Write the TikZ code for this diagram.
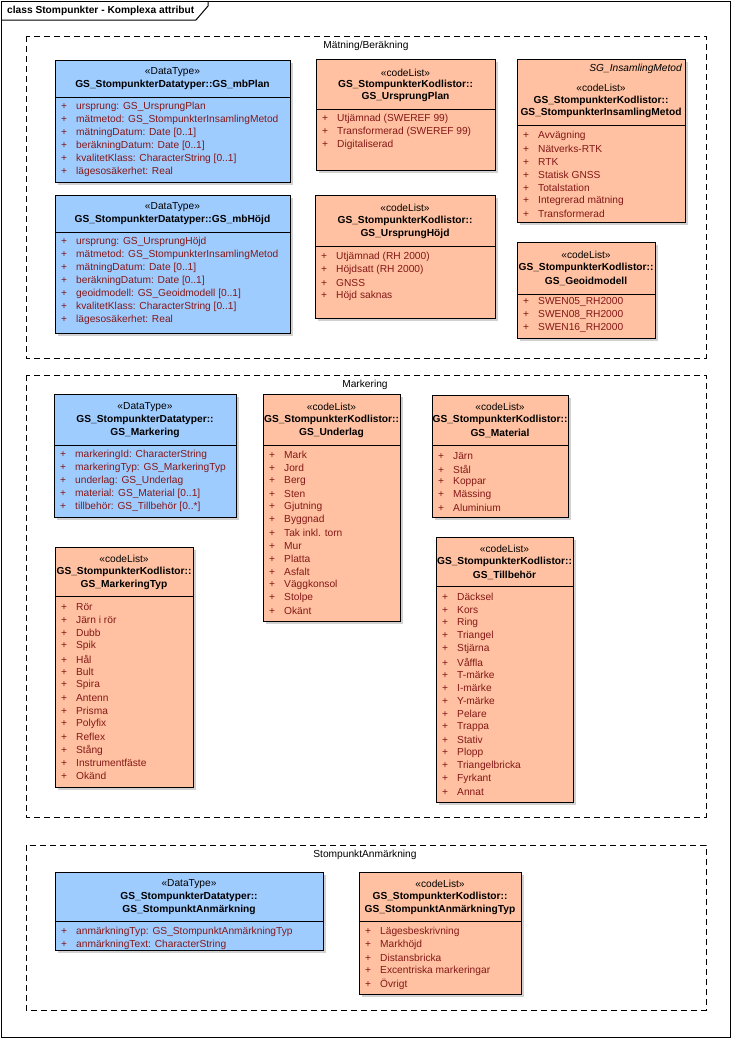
\documentclass[tikz,border=0pt]{standalone}
\usepackage{fontspec}
\setmainfont{Liberation Sans}
\usetikzlibrary{positioning}
\definecolor{DTblue}{HTML}{9FCCFF}
\definecolor{CLorange}{HTML}{FFC1A1}
\definecolor{ItemRed}{HTML}{841818}

\begin{document}
\begin{tikzpicture}[x=1pt,y=-1pt,
  every node/.style={font=\fontsize{10.2}{13}\selectfont, inner sep=0pt},
  dtbox/.style={draw=black, line width=1pt, fill=DTblue},
  clbox/.style={draw=black, line width=1pt, fill=CLorange},
  divider/.style={line width=1pt},
  dropshadow/.style={fill=black!18},
  pkg/.style={draw, line width=1pt, dash pattern=on 6pt off 4pt},
  titl/.style={font=\fontsize{10.2}{13}\selectfont\bfseries},
  attr/.style={anchor=west, text=ItemRed}]
  \useasboundingbox (0,0) rectangle (732,1039);

  % frame
  \draw[line width=1pt] (1,1) rectangle (730,1037);
  \draw[line width=1pt] (1,20) -- (196,20) -- (208,6) -- (208,1);
  \node[anchor=west,titl] (frameT) at (7,11) {class Stompunkter - Komplexa attribut};

  % package Mätning/Beräkning
  \draw[pkg] (26,36) rectangle (706,358);
  \node (pkgA) at (366,46) {Mätning/Beräkning};

  % GS_mbPlan
  \fill[dropshadow] (58,63) rectangle (293,185);
  \draw[dtbox] (55,60) rectangle (290,182);
  \draw[divider] (55,97) -- (290,97);
  \node (planS) at (172.5,72) {«DataType»};
  \node[titl] (planT) at (172.5,85) {GS\_StompunkterDatatyper::GS\_mbPlan};
  \foreach \k/\lab in {0/ursprung: GS\_UrsprungPlan, 1/mätmetod: GS\_StompunkterInsamlingMetod,
      2/mätningDatum: Date [0..1], 3/beräkningDatum: Date [0..1],
      4/kvalitetKlass: CharacterString [0..1], 5/lägesosäkerhet: Real}
    \node[attr] (plan\k) at (61,{107+13*\k}) {\makebox[15pt][l]{+}\lab};

  % GS_UrsprungPlan
  \fill[dropshadow] (319,62) rectangle (498,173);
  \draw[clbox] (316,59) rectangle (495,170);
  \draw[divider] (316,109) -- (495,109);
  \node (uplanS) at (405.5,73) {«codeList»};
  \node[titl] (uplanT1) at (405.5,85) {GS\_StompunkterKodlistor::};
  \node[titl] (uplanT2) at (405.5,97) {GS\_UrsprungPlan};
  \foreach \k/\lab in {0/Utjämnad (SWEREF 99), 1/Transformerad (SWEREF 99), 2/Digitaliserad}
    \node[attr] (uplan\k) at (322,{119+13*\k}) {\makebox[15pt][l]{+}\lab};

  % GS_StompunkterInsamlingMetod
  \fill[dropshadow] (520,62) rectangle (688,225);
  \draw[clbox] (517,59) rectangle (685,222);
  \draw[divider] (517,125) -- (685,125);
  \node[anchor=east,font=\fontsize{10.2}{13}\selectfont\itshape] (insG) at (682,69) {SG\_InsamlingMetod};
  \node (insS) at (601,88) {«codeList»};
  \node[titl] (insT1) at (601,101) {GS\_StompunkterKodlistor::};
  \node[titl] (insT2) at (601,113) {GS\_StompunkterInsamlingMetod};
  \foreach \k/\lab in {0/Avvägning, 1/Nätverks-RTK, 2/RTK, 3/Statisk GNSS, 4/Totalstation,
      5/Integrerad mätning, 6/Transformerad}
    \node[attr] (ins\k) at (523,{136+13*\k}) {\makebox[15pt][l]{+}\lab};

  % GS_mbHöjd
  \fill[dropshadow] (58,198) rectangle (293,336);
  \draw[dtbox] (55,195) rectangle (290,333);
  \draw[divider] (55,232) -- (290,232);
  \node (hojdS) at (172.5,207) {«DataType»};
  \node[titl] (hojdT) at (172.5,220) {GS\_StompunkterDatatyper::GS\_mbHöjd};
  \foreach \k/\lab in {0/ursprung: GS\_UrsprungHöjd, 1/mätmetod: GS\_StompunkterInsamlingMetod,
      2/mätningDatum: Date [0..1], 3/beräkningDatum: Date [0..1],
      4/geoidmodell: GS\_Geoidmodell [0..1], 5/kvalitetKlass: CharacterString [0..1],
      6/lägesosäkerhet: Real}
    \node[attr] (hojd\k) at (61,{242+13*\k}) {\makebox[15pt][l]{+}\lab};

  % GS_UrsprungHöjd
  \fill[dropshadow] (318,198) rectangle (498,321);
  \draw[clbox] (315,195) rectangle (495,318);
  \draw[divider] (315,246) -- (495,246);
  \node (uhojdS) at (405,208) {«codeList»};
  \node[titl] (uhojdT1) at (405,221) {GS\_StompunkterKodlistor::};
  \node[titl] (uhojdT2) at (405,234) {GS\_UrsprungHöjd};
  \foreach \k/\lab in {0/Utjämnad (RH 2000), 1/Höjdsatt (RH 2000), 2/GNSS, 3/Höjd saknas}
    \node[attr] (uhojd\k) at (321,{257+13*\k}) {\makebox[15pt][l]{+}\lab};

  % GS_Geoidmodell
  \fill[dropshadow] (520,245) rectangle (658,341);
  \draw[clbox] (517,242) rectangle (655,338);
  \draw[divider] (517,294) -- (655,294);
  \node (geoS) at (586,255) {«codeList»};
  \node[titl] (geoT1) at (586,268) {GS\_StompunkterKodlistor::};
  \node[titl] (geoT2) at (586,281) {GS\_Geoidmodell};
  \foreach \k/\lab in {0/SWEN05\_RH2000, 1/SWEN08\_RH2000, 2/SWEN16\_RH2000}
    \node[attr] (geo\k) at (523,{302+13*\k}) {\makebox[15pt][l]{+}\lab};

  % package Markering
  \draw[pkg] (26,375) rectangle (706,817);
  \node (pkgB) at (365,385) {Markering};

  % GS_Markering
  \fill[dropshadow] (57,397) rectangle (239,520);
  \draw[dtbox] (54,394) rectangle (236,517);
  \draw[divider] (54,445) -- (236,445);
  \node (markS) at (145,407) {«DataType»};
  \node[titl] (markT1) at (145,420) {GS\_StompunkterDatatyper::};
  \node[titl] (markT2) at (145,433) {GS\_Markering};
  \foreach \k/\lab in {0/markeringId: CharacterString, 1/markeringTyp: GS\_MarkeringTyp,
      2/underlag: GS\_Underlag, 3/material: GS\_Material [0..1], 4/tillbehör: GS\_Tillbehör [0..*]}
    \node[attr] (mark\k) at (60,{455+13*\k}) {\makebox[15pt][l]{+}\lab};

  % GS_Underlag
  \fill[dropshadow] (266,397) rectangle (403,624);
  \draw[clbox] (263,394) rectangle (400,621);
  \draw[divider] (263,445) -- (400,445);
  \node (undS) at (331.5,407) {«codeList»};
  \node[titl] (undT1) at (331.5,420) {GS\_StompunkterKodlistor::};
  \node[titl] (undT2) at (331.5,433) {GS\_Underlag};
  \foreach \k/\lab in {0/Mark, 1/Jord, 2/Berg, 3/Sten, 4/Gjutning, 5/Byggnad, 6/Tak inkl. torn,
      7/Mur, 8/Platta, 9/Asfalt, 10/Väggkonsol, 11/Stolpe, 12/Okänt}
    \node[attr] (und\k) at (269,{455+13*\k}) {\makebox[15pt][l]{+}\lab};

  % GS_Material
  \fill[dropshadow] (435,398) rectangle (571,520);
  \draw[clbox] (432,395) rectangle (568,517);
  \draw[divider] (432,445) -- (568,445);
  \node (matS) at (500,407) {«codeList»};
  \node[titl] (matT1) at (500,420) {GS\_StompunkterKodlistor::};
  \node[titl] (matT2) at (500,433) {GS\_Material};
  \foreach \k/\lab in {0/Järn, 1/Stål, 2/Koppar, 3/Mässing, 4/Aluminium}
    \node[attr] (mat\k) at (438,{456+13*\k}) {\makebox[15pt][l]{+}\lab};

  % GS_MarkeringTyp
  \fill[dropshadow] (58,550) rectangle (196,790);
  \draw[clbox] (55,547) rectangle (193,787);
  \draw[divider] (55,596) -- (193,596);
  \node (mtypS) at (124,559) {«codeList»};
  \node[titl] (mtypT1) at (124,572) {GS\_StompunkterKodlistor::};
  \node[titl] (mtypT2) at (124,585) {GS\_MarkeringTyp};
  \foreach \k/\lab in {0/Rör, 1/Järn i rör, 2/Dubb, 3/Spik, 4/Hål, 5/Bult, 6/Spira, 7/Antenn,
      8/Prisma, 9/Polyfix, 10/Reflex, 11/Stång, 12/Instrumentfäste, 13/Okänd}
    \node[attr] (mtyp\k) at (61,{607+13*\k}) {\makebox[15pt][l]{+}\lab};

  % GS_Tillbehör
  \fill[dropshadow] (439,540) rectangle (576,805);
  \draw[clbox] (436,537) rectangle (573,802);
  \draw[divider] (436,586) -- (573,586);
  \node (tillS) at (504.5,549) {«codeList»};
  \node[titl] (tillT1) at (504.5,562) {GS\_StompunkterKodlistor::};
  \node[titl] (tillT2) at (504.5,575) {GS\_Tillbehör};
  \foreach \k/\lab in {0/Däcksel, 1/Kors, 2/Ring, 3/Triangel, 4/Stjärna, 5/Våffla, 6/T-märke,
      7/I-märke, 8/Y-märke, 9/Pelare, 10/Trappa, 11/Stativ, 12/Plopp, 13/Triangelbricka,
      14/Fyrkant, 15/Annat}
    \node[attr] (till\k) at (442,{597+13*\k}) {\makebox[15pt][l]{+}\lab};

  % package StompunktAnmärkning
  \draw[pkg] (26,845) rectangle (706,1010);
  \node (pkgC) at (365,855) {StompunktAnmärkning};

  % GS_StompunktAnmärkning
  \fill[dropshadow] (58,875) rectangle (326,953);
  \draw[dtbox] (55,872) rectangle (323,950);
  \draw[divider] (55,921) -- (323,921);
  \node (anmS) at (189,884) {«DataType»};
  \node[titl] (anmT1) at (189,897) {GS\_StompunkterDatatyper::};
  \node[titl] (anmT2) at (189,910) {GS\_StompunktAnmärkning};
  \foreach \k/\lab in {0/anmärkningTyp: GS\_StompunktAnmärkningTyp, 1/anmärkningText: CharacterString}
    \node[attr] (anm\k) at (61,{932+13*\k}) {\makebox[15pt][l]{+}\lab};

  % GS_StompunktAnmärkningTyp
  \fill[dropshadow] (362,875) rectangle (524,997);
  \draw[clbox] (359,872) rectangle (521,994);
  \draw[divider] (359,921) -- (521,921);
  \node (atypS) at (440,884) {«codeList»};
  \node[titl] (atypT1) at (440,897) {GS\_StompunkterKodlistor::};
  \node[titl] (atypT2) at (440,910) {GS\_StompunktAnmärkningTyp};
  \foreach \k/\lab in {0/Lägesbeskrivning, 1/Markhöjd, 2/Distansbricka, 3/Excentriska markeringar, 4/Övrigt}
    \node[attr] (atyp\k) at (365,{932+13*\k}) {\makebox[15pt][l]{+}\lab};
\end{tikzpicture}
\end{document}
